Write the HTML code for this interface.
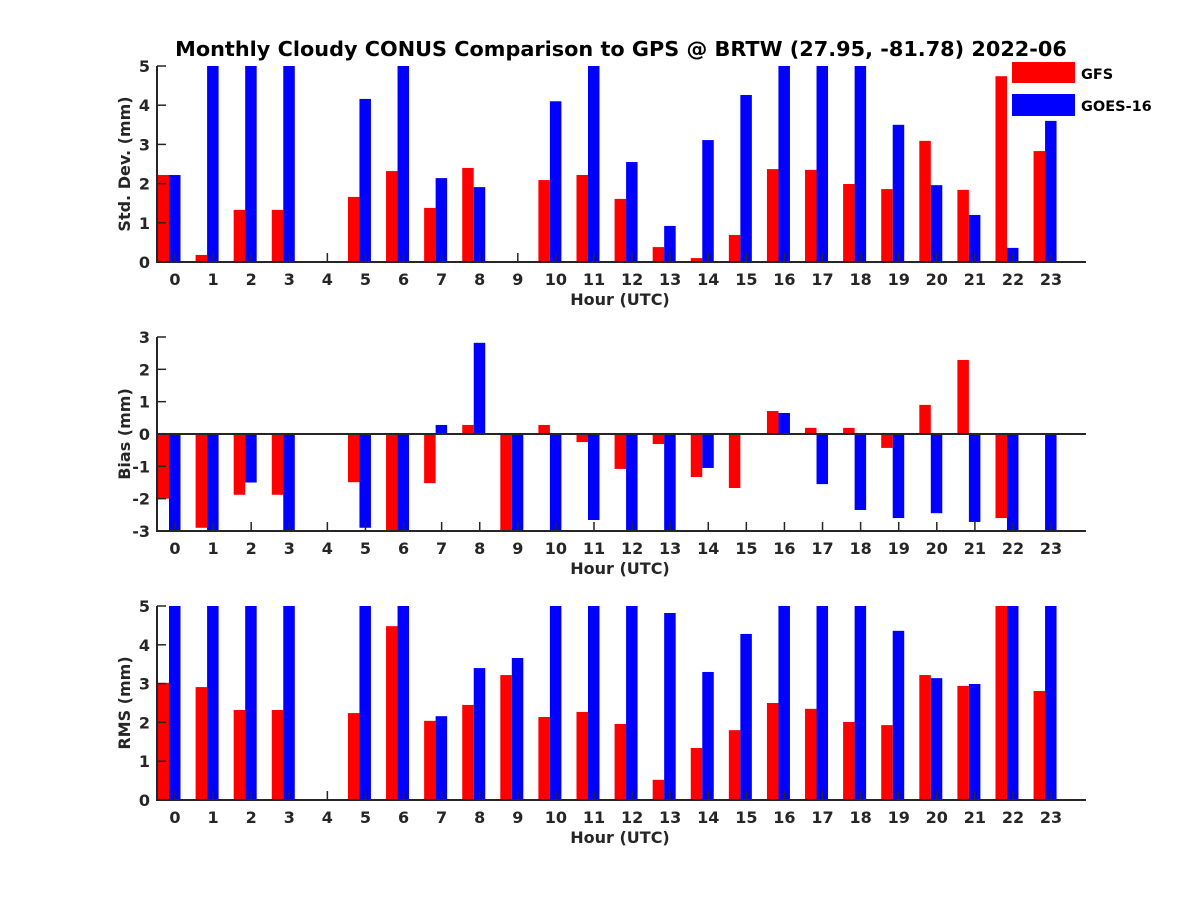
<!DOCTYPE html>
<html><head><meta charset="utf-8"><style>
body{margin:0;background:#fff;}
svg{display:block;font-family:"DejaVu Sans","Liberation Sans",sans-serif;font-weight:bold;}
</style></head><body>
<svg id="chart" width="1200" height="900"></svg>
<script>
const hours = [0,1,2,3,4,5,6,7,8,9,10,11,12,13,14,15,16,17,18,19,20,21,22,23];
const stdGfs  = [2.22,0.18,1.33,1.33,0,1.66,2.32,1.38,2.4,0,2.09,2.22,1.61,0.38,0.1,0.69,2.37,2.35,1.99,1.86,3.09,1.84,4.74,2.83];
const stdGoes = [2.22,5,5,5,0,4.16,5,2.14,1.91,0,4.1,5,2.55,0.92,3.11,4.26,5,5,5,3.5,1.96,1.2,0.36,3.6];
const biasGfs  = [-2.0,-2.9,-1.88,-1.88,0,-1.49,-3,-1.52,0.28,-3,0.28,-0.25,-1.08,-0.31,-1.33,-1.67,0.71,0.19,0.19,-0.43,0.9,2.29,-2.6,0.03];
const biasGoes = [-3,-3,-1.5,-3,0,-2.9,-3,0.28,2.82,-3,-3,-2.66,-3,-3,-1.05,-0.03,0.65,-1.55,-2.35,-2.6,-2.45,-2.72,-3,-3];
const rmsGfs  = [3.02,2.91,2.32,2.32,0,2.24,4.48,2.04,2.45,3.22,2.14,2.27,1.96,0.52,1.34,1.8,2.5,2.35,2.01,1.93,3.22,2.94,5,2.81];
const rmsGoes = [5,5,5,5,0,5,5,2.16,3.4,3.66,5,5,5,4.82,3.3,4.28,5,5,5,4.36,3.14,2.99,5,5];
const stdTicks = [0,1,2,3,4,5];
const biasTicks = [-3,-2,-1,0,1,2,3];
const rmsTicks = [0,1,2,3,4,5];

const NS="http://www.w3.org/2000/svg";
const svg=document.getElementById('chart');
function mk(tag,attrs,parent){const e=document.createElementNS(NS,tag);for(const k in attrs)e.setAttribute(k,attrs[k]);(parent||svg).appendChild(e);return e;}
const AX_L=157, AX_R=1086;
const xTick=h=>175+38.09*h;
const pairC=h=>169+38.09*h;

const title=mk('text',{x:621,y:56,'text-anchor':'middle','font-size':20.8,fill:'#000'});


title.textContent='Monthly Cloudy CONUS Comparison to GPS @ BRTW (27.95, -81.78) 2022-06';

function panel(name,top,bottom,ymin,ymax,ticks,gfs,goes,ylabel){
  const g=mk('g',{});
  
  
  const y=v=>bottom-(v-ymin)/(ymax-ymin)*(bottom-top);
  const base=y(Math.max(ymin,Math.min(ymax,0)));
  hours.forEach((h,i)=>{
    [[gfs[i],-11.5,'#ff0000','gfs'],[goes[i],0,'#0000ff','goes']].forEach(([v,off,col,s])=>{
      if(v===0)return;
      let x0=pairC(h)+off, x1=x0+11.5;
      x0=Math.max(x0,AX_L);
      const yv=y(Math.max(ymin,Math.min(ymax,v)));
      const r=mk('rect',{x:x0,y:Math.min(yv,base),width:x1-x0,height:Math.abs(yv-base),fill:col},g);
      
      
    });
  });
  if(ymin<0){mk('line',{x1:AX_L,x2:AX_R,y1:base,y2:base,stroke:'#262626','stroke-width':2},g);}
  mk('line',{x1:AX_L,x2:AX_L,y1:top,y2:bottom+1,stroke:'#262626','stroke-width':2},g);
  mk('line',{x1:AX_L-1,x2:AX_R,y1:bottom,y2:bottom,stroke:'#262626','stroke-width':2},g);
  ticks.forEach(t=>{
    const yy=y(t);
    mk('line',{x1:AX_L,x2:AX_L+9,y1:yy,y2:yy,stroke:'#262626','stroke-width':1.5},g);
    const tl=mk('text',{x:AX_L-7,y:yy+6,'text-anchor':'end','font-size':16,fill:'#262626'},g);
    
    
    tl.textContent=t;
  });
  hours.forEach(h=>{
    const xx=xTick(h);
    mk('line',{x1:xx,x2:xx,y1:bottom,y2:bottom-9,stroke:'#262626','stroke-width':1.5},g);
    const tl=mk('text',{x:xx,y:bottom+23,'text-anchor':'middle','font-size':16,fill:'#262626'},g);
    
    
    tl.textContent=h;
  });
  const xl=mk('text',{x:620,y:bottom+43,'text-anchor':'middle','font-size':16,fill:'#262626'},g);
  
  
  xl.textContent='Hour (UTC)';
  const cy=(top+bottom)/2;
  const yl=mk('text',{x:0,y:0,'text-anchor':'middle','font-size':16,fill:'#262626',transform:`translate(130,${cy}) rotate(-90)`},g);
  
  
  yl.textContent=ylabel;
}
panel('std',66,262,0,5,stdTicks,stdGfs,stdGoes,'Std. Dev. (mm)');
panel('bias',337,531,-3,3,biasTicks,biasGfs,biasGoes,'Bias (mm)');
panel('rms',606,800,0,5,rmsTicks,rmsGfs,rmsGoes,'RMS (mm)');

const lg=mk('g',{});


mk('rect',{x:1012,y:62,width:63,height:21,fill:'#ff0000'},lg);
mk('rect',{x:1012,y:94,width:63,height:22,fill:'#0000ff'},lg);
const l1=mk('text',{x:1081,y:79,'font-size':14.5,fill:'#000'},lg);


l1.textContent='GFS';
const l2=mk('text',{x:1081,y:111,'font-size':14.5,fill:'#000'},lg);


l2.textContent='GOES-16';
</script>
</body></html>
